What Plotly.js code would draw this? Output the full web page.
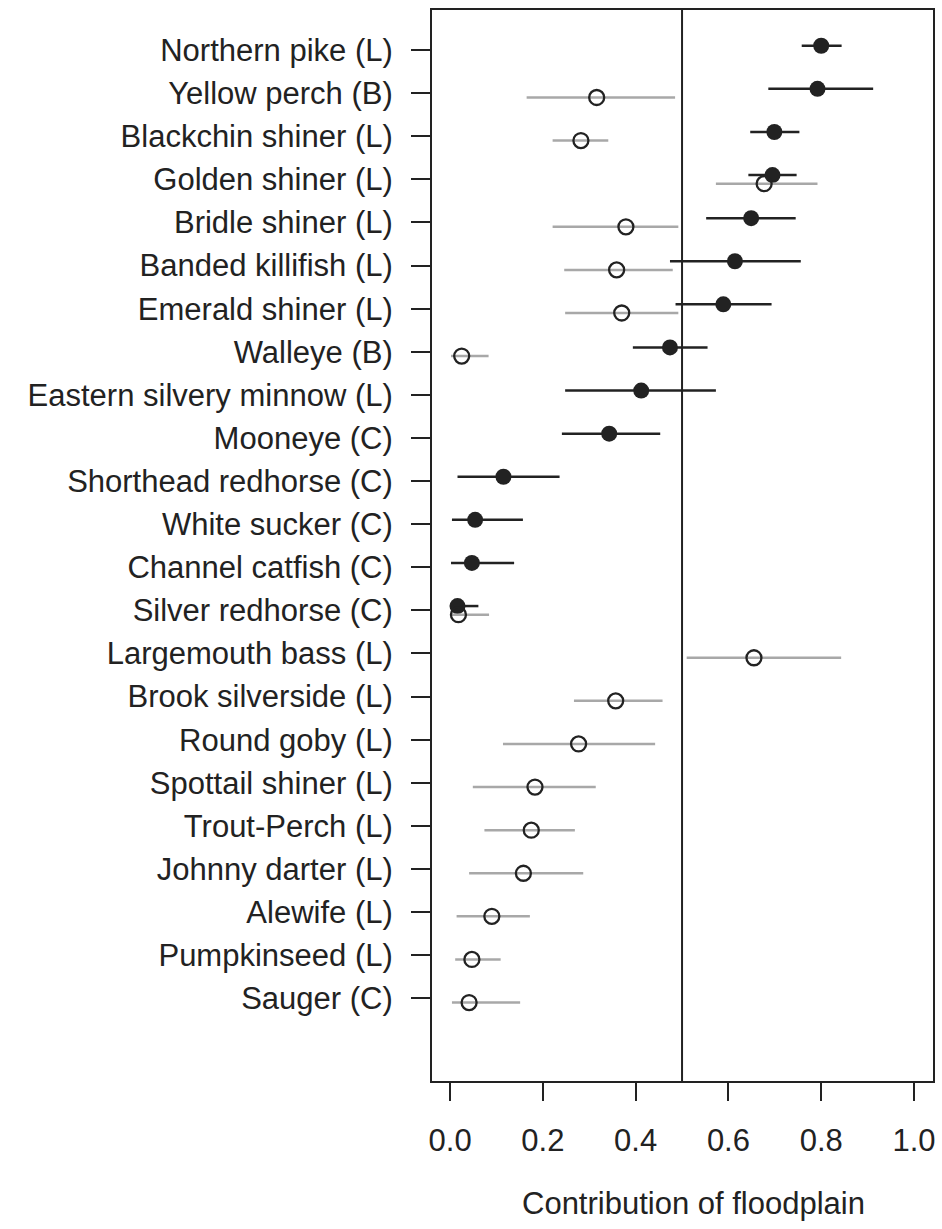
<!DOCTYPE html>
<html>
<head>
<meta charset="utf-8">
<script src="https://cdn.plot.ly/plotly-3.0.1.min.js"></script>
<style>
  html, body { margin: 0; padding: 0; background: #fff; }
  #chart { width: 942px; height: 1229px; }
</style>
</head>
<body>
<div id="chart"></div>
<script>
// Species, listed top to bottom
const species = [
  "Northern pike (L)", "Yellow perch (B)", "Blackchin shiner (L)", "Golden shiner (L)",
  "Bridle shiner (L)", "Banded killifish (L)", "Emerald shiner (L)", "Walleye (B)",
  "Eastern silvery minnow (L)", "Mooneye (C)", "Shorthead redhorse (C)", "White sucker (C)",
  "Channel catfish (C)", "Silver redhorse (C)", "Largemouth bass (L)", "Brook silverside (L)",
  "Round goby (L)", "Spottail shiner (L)", "Trout-Perch (L)", "Johnny darter (L)",
  "Alewife (L)", "Pumpkinseed (L)", "Sauger (C)"
];

// Filled estimates (mean and interval), null where absent
const filledMean = [0.800, 0.792, 0.699, 0.695, 0.649, 0.614, 0.589, 0.474, 0.412, 0.343, 0.115, 0.054, 0.047, 0.016,
  null, null, null, null, null, null, null, null, null];
const filledLow  = [0.758, 0.686, 0.647, 0.643, 0.552, 0.474, 0.486, 0.394, 0.248, 0.241, 0.016, 0.004, 0.002, 0.000,
  null, null, null, null, null, null, null, null, null];
const filledHigh = [0.844, 0.912, 0.753, 0.747, 0.745, 0.756, 0.693, 0.555, 0.573, 0.453, 0.236, 0.157, 0.138, 0.061,
  null, null, null, null, null, null, null, null, null];

// Open estimates (mean and interval), null where absent
const openMean = [null, 0.316, 0.282, 0.677, 0.379, 0.359, 0.370, 0.025, null, null, null, null, null, 0.018,
  0.655, 0.357, 0.277, 0.183, 0.175, 0.158, 0.090, 0.047, 0.041];
const openLow  = [null, 0.165, 0.221, 0.573, 0.221, 0.246, 0.248, 0.002, null, null, null, null, null, 0.000,
  0.510, 0.267, 0.114, 0.049, 0.074, 0.041, 0.014, 0.011, 0.004];
const openHigh = [null, 0.485, 0.341, 0.792, 0.492, 0.480, 0.492, 0.083, null, null, null, null, null, 0.084,
  0.843, 0.458, 0.442, 0.314, 0.269, 0.287, 0.172, 0.109, 0.151];

const xTicks = [0.0, 0.2, 0.4, 0.6, 0.8, 1.0];
const xTickText = ["0.0", "0.2", "0.4", "0.6", "0.8", "1.0"];
const xTitle = "Contribution of floodplain";

const rowIdx = species.map((_, i) => i);
const FONT = "Liberation Sans, Arial, Helvetica, sans-serif";
const INK = "#222";

function buildTrace(mean, low, high, offset, opts) {
  const x = [], y = [], plus = [], minus = [];
  mean.forEach((m, i) => {
    if (m === null) return;
    x.push(m);
    y.push(rowIdx[i] + offset);
    plus.push(high[i] - m);
    minus.push(m - low[i]);
  });
  return {
    type: "scatter", mode: "markers", x, y,
    hoverinfo: "x",
    marker: opts.marker,
    error_x: { type: "data", symmetric: false, array: plus, arrayminus: minus,
               color: opts.barColor, thickness: 2.5, width: 0 },
    showlegend: false
  };
}

const filledTrace = buildTrace(filledMean, filledLow, filledHigh, -0.1, {
  marker: { symbol: "circle", size: 16, color: INK, line: { width: 0 } },
  barColor: INK
});

const openTrace = buildTrace(openMean, openLow, openHigh, 0.1, {
  marker: { symbol: "circle-open", size: 15, color: INK, line: { width: 2.3, color: INK } },
  barColor: "#a8a8a8"
});

const layout = {
  width: 942, height: 1229,
  margin: { l: 432, r: 9, t: 10, b: 148 },
  paper_bgcolor: "#ffffff", plot_bgcolor: "#ffffff",
  font: { family: FONT, size: 31, color: INK },
  xaxis: {
    range: [-0.039, 1.041],
    tickvals: xTicks, ticktext: xTickText,
    ticks: "outside", ticklen: 18, tickwidth: 2, tickcolor: INK,
    ticklabelstandoff: 13,
    showgrid: false, zeroline: false,
    showline: true, linecolor: INK, linewidth: 2, mirror: true,
    tickfont: { family: FONT, size: 31, color: INK }
  },
  yaxis: {
    range: [23.92, -0.93],
    tickvals: rowIdx, ticktext: species,
    ticks: "outside", ticklen: 19, tickwidth: 2, tickcolor: INK,
    ticklabelstandoff: 12,
    showgrid: false, zeroline: false,
    showline: true, linecolor: INK, linewidth: 2, mirror: true,
    tickfont: { family: FONT, size: 31, color: INK }
  },
  annotations: [{
    text: xTitle, xref: "x", yref: "paper",
    x: 0.524, y: -0.114, xanchor: "center", yanchor: "middle",
    showarrow: false, font: { family: FONT, size: 31, color: INK }
  }],
  shapes: [{
    type: "line", xref: "x", yref: "paper",
    x0: 0.5, x1: 0.5, y0: 0, y1: 1,
    line: { color: INK, width: 2 }
  }]
};

Plotly.newPlot("chart", [filledTrace, openTrace], layout, { displayModeBar: false, staticPlot: true });
</script>
</body>
</html>
